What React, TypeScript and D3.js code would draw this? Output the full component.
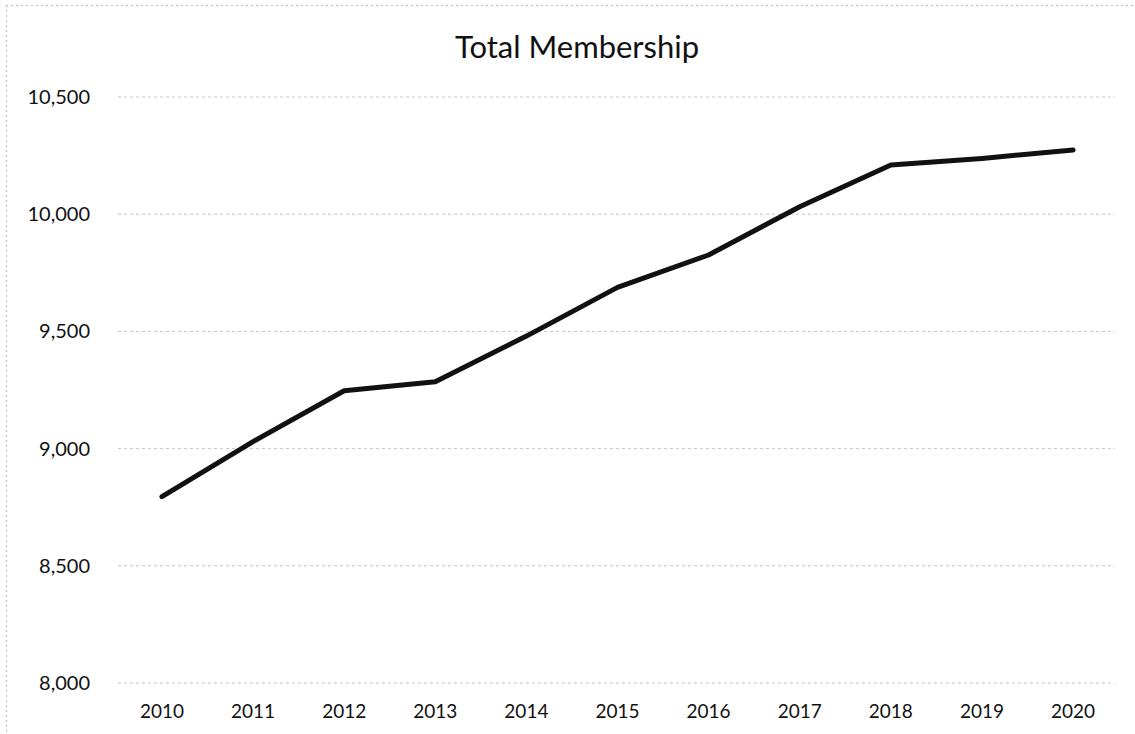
import React from "react";
import * as d3 from "d3";

const years = ["2010", "2011", "2012", "2013", "2014", "2015", "2016", "2017", "2018", "2019", "2020"];
const membership = [8795, 9030, 9247, 9285, 9480, 9688, 9826, 10032, 10210, 10238, 10274];
const yTicks = [8000, 8500, 9000, 9500, 10000, 10500];
const title = "Total Membership";

const W = 1135;
const H = 734;
const FONT = "Lato, 'Open Sans', 'Liberation Sans', sans-serif";

export default function App() {
  const x = d3.scalePoint<string>().domain(years).range([116.4, 1118.6]).padding(0.5);
  const y = d3.scaleLinear().domain([8000, 10500]).range([683, 97]);
  const fmt = d3.format(",");
  const line = d3
    .line<number>()
    .x((_, i) => x(years[i]) as number)
    .y((d) => y(d));

  return (
    <svg
      width={W}
      height={H}
      style={{ position: "absolute", left: 0, top: 0, background: "#fff" }}
      fontFamily={FONT}
    >
      <rect x={0} y={0} width={W} height={H} fill="#fff" />
      <line x1={6.5} y1={5} x2={6.5} y2={H} stroke="#bbb" strokeDasharray="2 3" />
      <line x1={6} y1={5.5} x2={W} y2={5.5} stroke="#bbb" strokeDasharray="2 3" />
      <text x={577} y={58} textAnchor="middle" fontSize={31} fill="#111">
        {title}
      </text>
      {yTicks.map((t) => (
        <g key={t}>
          <line
            x1={118}
            x2={1115}
            y1={y(t)}
            y2={y(t)}
            stroke="#c4c4c4"
            strokeWidth={1}
            strokeDasharray="3 3"
          />
          <text x={90} y={y(t)} dy="0.35em" textAnchor="end" fontSize={20} fill="#111">
            {fmt(t)}
          </text>
        </g>
      ))}
      {years.map((yr) => (
        <text key={yr} x={x(yr)} y={718} textAnchor="middle" fontSize={19} fill="#111">
          {yr}
        </text>
      ))}
      <path
        d={line(membership) || ""}
        fill="none"
        stroke="#111"
        strokeWidth={5}
        strokeLinejoin="round"
        strokeLinecap="round"
      />
    </svg>
  );
}
